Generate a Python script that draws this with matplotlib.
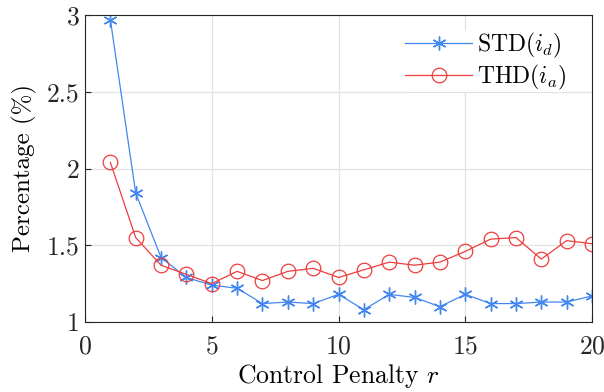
import numpy as np
import matplotlib
matplotlib.use('Agg')
import matplotlib.pyplot as plt

plt.rcParams['font.family'] = 'serif'
plt.rcParams['font.serif'] = ['cmr10']
plt.rcParams['mathtext.fontset'] = 'cm'
plt.rcParams['axes.formatter.use_mathtext'] = True

# control penalty sweep
r = np.arange(1, 21)
std_id = [2.97, 1.84, 1.42, 1.29, 1.24, 1.22, 1.12, 1.13, 1.12, 1.18,
          1.08, 1.18, 1.16, 1.10, 1.18, 1.12, 1.12, 1.13, 1.13, 1.17]
thd_ia = [2.04, 1.55, 1.37, 1.31, 1.25, 1.33, 1.27, 1.33, 1.35, 1.29,
          1.34, 1.39, 1.37, 1.39, 1.46, 1.54, 1.55, 1.41, 1.53, 1.51]

blue = '#4287f0'
red = '#ee3d3d'
asterisk = (6, 2, 0)

fig = plt.figure(figsize=(6.04, 3.92), dpi=100)
ax = fig.add_axes([85/604, 1 - 322/392, 507/604, 307/392])

ax.plot(r, std_id, color=blue, lw=0.9, marker=asterisk, ms=10, mew=1.0,
        label=r'STD$(i_d)$')
ax.plot(r, thd_ia, color=red, lw=0.9, marker='o', ms=10.5, mew=0.9,
        markerfacecolor='none', label=r'THD$(i_a)$')

ax.set_xlim(0, 20)
ax.set_ylim(1, 3)
ax.set_xticks([0, 5, 10, 15, 20])
ax.set_yticks([1, 1.5, 2, 2.5, 3])
ax.set_yticklabels(['1', '1.5', '2', '2.5', '3'])
ax.grid(True, color='#e3e3e3', lw=0.9)
ax.set_axisbelow(True)
ax.tick_params(direction='in', labelsize=18.5, length=4, width=0.8,
               colors='#262626')
ax.tick_params(axis='x', pad=9)
ax.tick_params(axis='y', pad=4)
for s in ax.spines.values():
    s.set_color('#262626')
    s.set_linewidth(0.8)

ax.set_xlabel(r'Control Penalty $r$', fontsize=18.5, labelpad=3)
ax.set_ylabel('Percentage (%)', fontsize=18, labelpad=7)

leg = ax.legend(loc='upper right', bbox_to_anchor=(0.95, 0.948), fontsize=17,
                frameon=True, facecolor='white', edgecolor='none',
                fancybox=False, handlelength=2.8, borderaxespad=0.0,
                borderpad=0.0, labelspacing=0.1, handletextpad=0.25)
leg.get_frame().set_alpha(1)

fig.savefig('out.png', dpi=100)
